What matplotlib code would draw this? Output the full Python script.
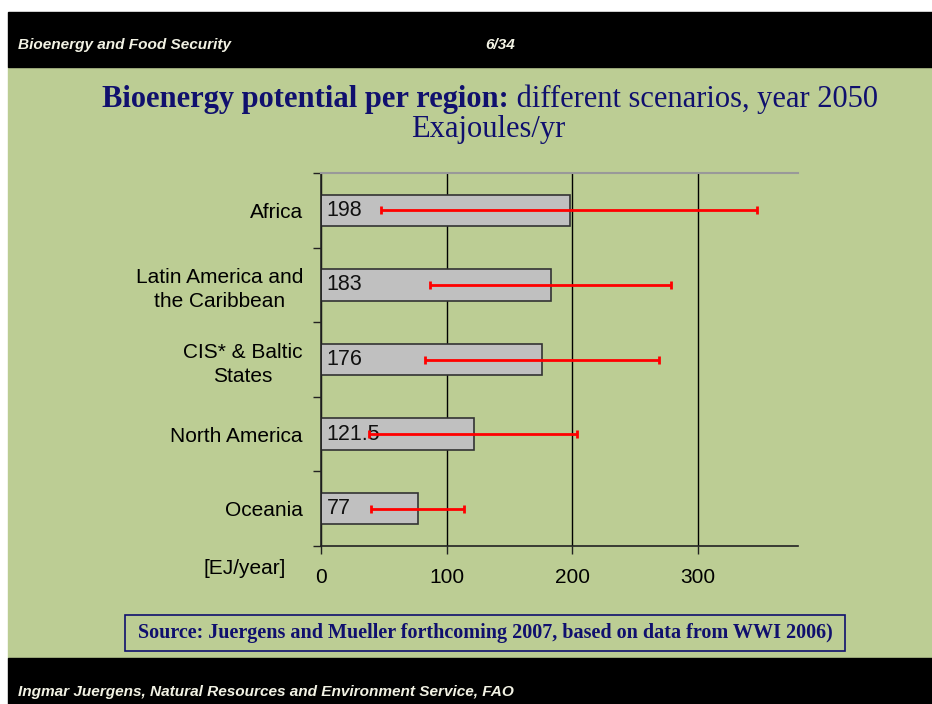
import matplotlib
matplotlib.use("Agg")
import numpy as np
import matplotlib.pyplot as plt
from matplotlib.patches import Rectangle

# regions, central estimate and scenario range (EJ/yr, 2050)
regions = ["Africa", "Latin America and\nthe Caribbean", "CIS* & Baltic\nStates",
           "North America", "Oceania"]
potential = np.array([198, 183, 176, 121.5, 77])
range_low = np.array([48, 87, 83, 38, 40])
range_high = np.array([347, 279, 269, 204, 114])
value_labels = ["198", "183", "176", "121.5", "77"]
x_ticks = [0, 100, 200, 300]

GREEN = "#bccd94"
NAVY = "#10106e"
HEAD = "#f2f2e4"

fig = plt.figure(figsize=(9.32, 7.04), dpi=100)
fig.patch.set_facecolor("white")

def px(x, y):
    return x / 932, 1 - y / 704

# slide background, header and footer bands
for (x0, y0, x1, y1, c) in [(8, 67, 932, 658, GREEN), (8, 12, 932, 67, "black"),
                            (8, 658, 932, 704, "black")]:
    fig.patches.append(Rectangle(px(x0, y1), (x1 - x0) / 932, (y1 - y0) / 704,
                                 transform=fig.transFigure, color=c, zorder=-5))

hdr = dict(color=HEAD, fontweight="bold", fontstyle="italic",
           family=["Liberation Sans Narrow", "Liberation Sans"], fontsize=11.1, va="center")
fig.text(*px(18, 45), "Bioenergy and Food Security", ha="left", **hdr)
fig.text(*px(500, 45), "6/34", ha="center", **hdr)
fig.text(*px(18, 692), "Ingmar Juergens, Natural Resources and Environment Service, FAO",
         ha="left", **hdr)

# title
serif = ["Liberation Serif", "DejaVu Serif"]
t1 = fig.text(*px(102, 99), "Bioenergy potential per region:", family=serif,
              fontsize=22, fontweight="bold", color=NAVY, ha="left", va="center")
fig.canvas.draw()
bb = t1.get_window_extent()
fig.text(bb.x1 / 932, 1 - 99 / 704, " different scenarios, year 2050", family=serif,
         fontsize=22, color=NAVY, ha="left", va="center")
fig.text(*px(488, 129), "Exajoules/yr", family=serif, fontsize=22, color=NAVY,
         ha="center", va="center")

# chart
sans = "Liberation Sans"
ax = fig.add_axes([321 / 932, 1 - 546 / 704, (798 - 321) / 932, (546 - 173) / 704])
ax.patch.set_alpha(0)
y = np.arange(len(regions))
ax.barh(y, potential, height=0.42, color="#c0c0c0", edgecolor="#333333",
        linewidth=1.2, zorder=2)
ax.errorbar(potential, y, xerr=[potential - range_low, range_high - potential],
            fmt="none", ecolor="red", elinewidth=2, capsize=3, capthick=2, zorder=4)
for yi, lab in zip(y, value_labels):
    ax.text(4.5, yi, lab, fontsize=15.5, family=sans, va="center",
            ha="left", color="#111111", zorder=3)

ax.set_xlim(0, 380)
ax.set_ylim(len(regions) - 0.5, -0.5)
ax.set_xticks(x_ticks)
ax.set_xticklabels([str(v) for v in x_ticks], fontsize=15, family=sans)
ax.set_yticks(y)
ax.set_yticklabels(regions, fontsize=15, family=sans, ha="right",
                   multialignment="center", linespacing=1.35)
ax.set_yticks(np.arange(-0.5, len(regions) + 0.5, 1), minor=True)
ax.tick_params(axis="y", which="major", length=0, pad=13)
ax.tick_params(axis="y", which="minor", length=6, width=1, color="#222222")
ax.tick_params(axis="x", length=6, width=1, color="#222222", pad=9.5)
ax.grid(axis="x", color="black", linewidth=1, zorder=1)
ax.set_axisbelow(True)
ax.spines["right"].set_visible(False)
ax.spines["top"].set_color("#999999")
ax.spines["top"].set_linewidth(1.5)
for s in ("left", "bottom"):
    ax.spines[s].set_color("#222222")
    ax.spines[s].set_linewidth(1.2)

fig.text(*px(245, 568), "[EJ/year]", fontsize=15, family=sans,
         ha="center", va="center")

# source box
fig.patches.append(Rectangle(px(125, 651), (845 - 125) / 932, (651 - 615) / 704,
                             transform=fig.transFigure, facecolor="none",
                             edgecolor=NAVY, linewidth=1.2, zorder=3))
fig.text(*px(485, 633), "Source: Juergens and Mueller forthcoming 2007, based on data from WWI 2006)",
         family=serif, fontsize=14.5, fontweight="bold", color=NAVY,
         ha="center", va="center")

fig.savefig("out.png", dpi=100, facecolor=fig.get_facecolor())
